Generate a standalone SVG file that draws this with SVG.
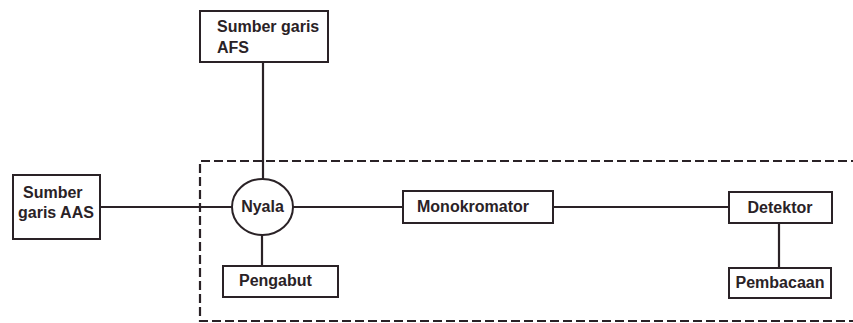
<svg xmlns="http://www.w3.org/2000/svg" width="853" height="323" viewBox="0 0 853 323">
<style>
.box{fill:#fff;stroke:#2a2226;stroke-width:2}
.ln{fill:none;stroke:#2a2226;stroke-width:2.2}
.dash{fill:none;stroke:#2a2226;stroke-width:2.2;stroke-dasharray:9 4}
text{font-family:"Liberation Sans",Arial,sans-serif;font-weight:bold;font-size:16px;fill:#2a2226}
</style>
<rect width="853" height="323" fill="#fff"/>
<path class="dash" d="M860 161 H200 V321 H860"/>
<g id="connectors">
<line class="ln" x1="263" y1="62" x2="263" y2="179"/>
<line class="ln" x1="100" y1="207" x2="232" y2="207"/>
<line class="ln" x1="293" y1="207" x2="403" y2="207"/>
<line class="ln" x1="553" y1="207" x2="729" y2="207" stroke-width="3"/>
<line class="ln" x1="262" y1="235" x2="262" y2="266"/>
<line class="ln" x1="779" y1="223" x2="779" y2="268"/>
</g>
<g id="afs"><rect class="box" x="200" y="11" width="128" height="51"/><text x="217" y="32">Sumber garis</text><text x="217" y="53">AFS</text></g>
<g id="aas"><rect class="box" x="13" y="175" width="87" height="64"/><text x="23" y="198">Sumber</text><text x="18" y="218">garis AAS</text></g>
<g id="nyala"><ellipse class="box" cx="262.5" cy="207" rx="30.5" ry="28"/><text x="262.5" y="212" text-anchor="middle">Nyala</text></g>
<g id="pengabut"><rect class="box" x="223" y="266" width="115" height="31"/><text x="239" y="286">Pengabut</text></g>
<g id="monokromator"><rect class="box" x="403" y="191" width="150" height="32"/><text x="417" y="212">Monokromator</text></g>
<g id="detektor"><rect class="box" x="729" y="192" width="103" height="31"/><text x="780" y="213" text-anchor="middle">Detektor</text></g>
<g id="pembacaan"><rect class="box" x="729" y="268" width="102" height="30"/><text x="780" y="288" text-anchor="middle">Pembacaan</text></g>
</svg>
